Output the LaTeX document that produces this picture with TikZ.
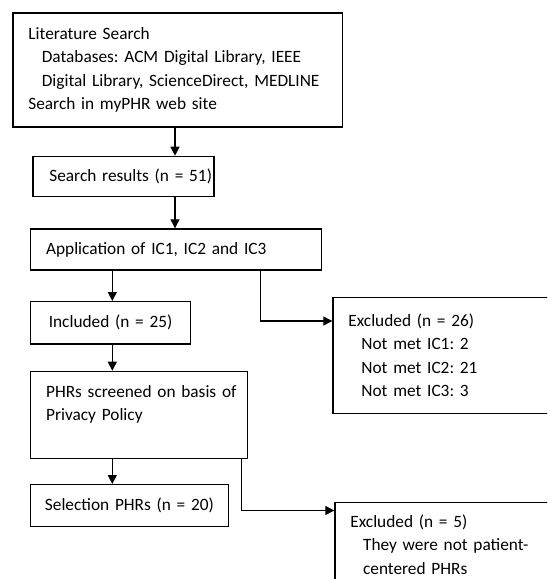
\documentclass[tikz,border=0pt]{standalone}
\usepackage{fontspec}
\setmainfont{Carlito}
\frenchspacing
\usetikzlibrary{arrows.meta}
\begin{document}
\begin{tikzpicture}[x=1pt,y=-1pt,
  box/.style={draw, line width=1.2pt, anchor=north west, inner xsep=15.5pt, inner ysep=0pt,
    align=left, font=\fontsize{17.3}{23.3}\selectfont\frenchspacing},
  cbox/.style={box, align=center, inner xsep=0pt},
  arr/.style={line width=1.2pt, -{Triangle[length=9pt,width=9pt]}}]
\fill[white] (0,0) rectangle (547,579);
\useasboundingbox (0,0) rectangle (547,579);
\clip (0,0) rectangle (547,579);

\node[box, text width=298.4pt, minimum height=114pt] (top) at (12.3,12.3)
  {\mbox{Literature Search}\\
   \mbox{\hspace*{13.4pt}Databases: ACM Digital Library, IEEE}\\
   \mbox{\hspace*{13.4pt}Digital Library, ScienceDirect, MEDLINE}\\
   \mbox{Search in myPHR web site}};
\node[box, inner xsep=16.5pt, text width=148pt, minimum height=40.3pt] (search) at (32.3,155.7)
  {\mbox{Search results (n = 51)}};
\node[box, text width=259.7pt, minimum height=41pt] (app) at (30,228.3)
  {\mbox{Application of IC1, IC2 and IC3}};
\node[cbox, text width=160pt, minimum height=42.3pt] (inc) at (30,301)
  {Included (n = 25)};
\node[box, text width=185.7pt, minimum height=87pt] (phr) at (30,370.7)
  {\mbox{PHRs screened on basis of}\\ \mbox{Privacy Policy}\\ \mbox{}};
\node[cbox, text width=197.7pt, minimum height=41.7pt] (sel) at (30,484)
  {Selection PHRs (n = 20)};
\node[box, text width=200pt, minimum height=116pt] (ex1) at (332.3,296.7)
  {Excluded (n = 26)\\
   \hspace*{13pt}Not met IC1: 2\\
   \hspace*{13pt}Not met IC2: 21\\
   \hspace*{13pt}Not met IC3: 3};
\node[box, text width=200pt, minimum height=84.4pt] (ex2) at (334.3,501.7)
  {Excluded (n = 5)\\
   \mbox{\hspace*{12.7pt}They were not patient-}\\
   \mbox{\hspace*{12.7pt}centered PHRs}};

\draw[arr] (top.south -| 175,0) -- (search.north -| 175,0);
\draw[arr] (search.south -| 175,0) -- (app.north -| 175,0);
\draw[arr] (app.south -| 112.3,0) -- (inc.north -| 112.3,0);
\draw[arr] (inc.south -| 112.3,0) -- (phr.north -| 112.3,0);
\draw[arr] (phr.south -| 112.3,0) -- (sel.north -| 112.3,0);
\draw[arr] (app.south -| 260.7,0) |- (ex1.north west |- 0,321);
\draw[arr] (phr.south -| 241.7,0) |- (ex2.north west |- 0,510.5);
\end{tikzpicture}
\end{document}
